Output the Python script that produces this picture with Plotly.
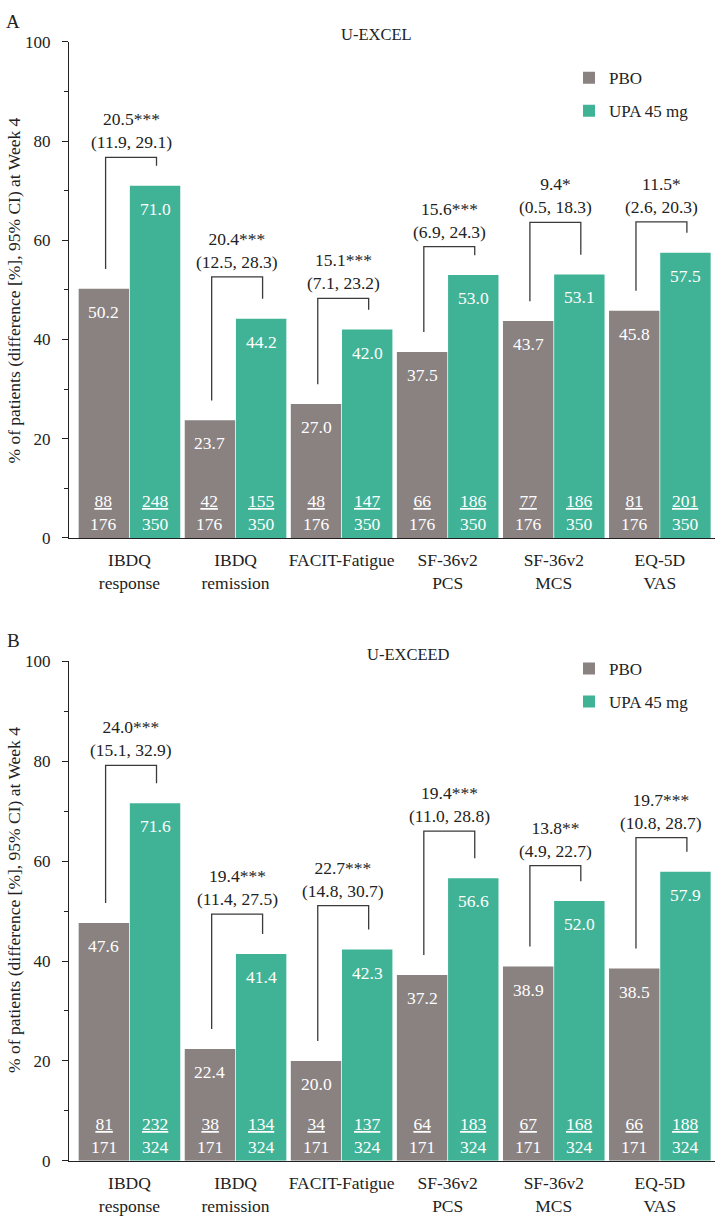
"""Recria o gráfico de barras U-EXCEL / U-EXCEED (PBO vs UPA 45 mg) na semana 4"""

import plotly.graph_objects as go

# Categorias do eixo x
categorias = ["IBDQ<br>response", "IBDQ<br>remission", "FACIT-Fatigue", "SF-36v2<br>PCS", "SF-36v2<br>MCS", "EQ-5D<br>VAS"]

# Painel A - U-EXCEL
pbo_excel = [50.2, 23.7, 27.0, 37.5, 43.7, 45.8]
upa_excel = [71.0, 44.2, 42.0, 53.0, 53.1, 57.5]
pbo_n_excel = [88, 42, 48, 66, 77, 81]
upa_n_excel = [248, 155, 147, 186, 186, 201]
pbo_total_excel = 176
upa_total_excel = 350
dif_excel = ["20.5***", "20.4***", "15.1***", "15.6***", "9.4*", "11.5*"]
ic_excel = ["(11.9, 29.1)", "(12.5, 28.3)", "(7.1, 23.2)", "(6.9, 24.3)", "(0.5, 18.3)", "(2.6, 20.3)"]
chave_excel = [76.7, 52.6, 48.3, 58.7, 63.6, 63.7]

# Painel B - U-EXCEED
pbo_exceed = [47.6, 22.4, 20.0, 37.2, 38.9, 38.5]
upa_exceed = [71.6, 41.4, 42.3, 56.6, 52.0, 57.9]
pbo_n_exceed = [81, 38, 34, 64, 67, 66]
upa_n_exceed = [232, 134, 137, 183, 168, 188]
pbo_total_exceed = 171
upa_total_exceed = 324
dif_exceed = ["24.0***", "19.4***", "22.7***", "19.4***", "13.8**", "19.7***"]
ic_exceed = ["(15.1, 32.9)", "(11.4, 27.5)", "(14.8, 30.7)", "(11.0, 28.8)", "(4.9, 22.7)", "(10.8, 28.7)"]
chave_exceed = [79.2, 49.4, 51.1, 66.0, 59.1, 64.7]

CINZA = "#8A8181"
VERDE = "#40B396"
TEXTO = "#222222"
FONTE = "Liberation Serif"
W, H = 727, 1222

paineis = [
	dict(xa="x", ya="y", leg="legend", titulo="U-EXCEL", titulo_x=376.7, letra="A", rotulo_y=286,
		pbo=pbo_excel, upa=upa_excel, pbo_n=pbo_n_excel, upa_n=upa_n_excel,
		pbo_tot=pbo_total_excel, upa_tot=upa_total_excel,
		dif=dif_excel, ic=ic_excel, chave=chave_excel),
	dict(xa="x2", ya="y2", leg="legend2", titulo="U-EXCEED", titulo_x=408, letra="B", rotulo_y=905,
		pbo=pbo_exceed, upa=upa_exceed, pbo_n=pbo_n_exceed, upa_n=upa_n_exceed,
		pbo_tot=pbo_total_exceed, upa_tot=upa_total_exceed,
		dif=dif_exceed, ic=ic_exceed, chave=chave_exceed),
]

# Posições em pixels (topo / base de cada área de plotagem)
topo_px = [33.3, 662.7]
base_px = [537.3, 1170.0]

fig = go.Figure()
anotacoes = []
idx = list(range(len(categorias)))
desl = 0.241  # deslocamento do centro de cada barra no grupo

for p, topo, base in zip(paineis, topo_px, base_px):
	fig.add_trace(go.Bar(x=idx, y=p["pbo"], name="PBO", marker_color=CINZA, marker_line_width=0,
		xaxis=p["xa"], yaxis=p["ya"], legend=p["leg"], legendgroup="pbo", hoverinfo="skip"))
	fig.add_trace(go.Bar(x=idx, y=p["upa"], name="UPA 45 mg", marker_color=VERDE, marker_line_width=0,
		xaxis=p["xa"], yaxis=p["ya"], legend=p["leg"], legendgroup="upa", hoverinfo="skip"))

	# Chaves ligando PBO e UPA
	bx, by = [], []
	for i in idx:
		xl, xr = i - 0.225, i + 0.255
		bx += [xl, xl, xr, xr, None]
		by += [p["pbo"][i] + 4, p["chave"][i], p["chave"][i], p["upa"][i] + 4, None]
	fig.add_trace(go.Scatter(x=bx, y=by, mode="lines", line=dict(color="#3a3a3a", width=1.3),
		xaxis=p["xa"], yaxis=p["ya"], showlegend=False, hoverinfo="skip"))

	for i in idx:
		# diferença e IC acima da chave
		anotacoes.append(dict(x=i + 0.015, y=p["chave"][i], xref=p["xa"], yref=p["ya"],
			text=f"{p['dif'][i]}<br>{p['ic'][i]}", showarrow=False, yanchor="bottom", yshift=3,
			font=dict(family=FONTE, size=17.5, color=TEXTO)))
		# valores dentro das barras
		for sinal, val in ((-1, p["pbo"][i]), (1, p["upa"][i])):
			anotacoes.append(dict(x=i + sinal * desl, y=val, xref=p["xa"], yref=p["ya"],
				text=f"{val:.1f}", showarrow=False, yanchor="middle", yshift=-23,
				font=dict(family=FONTE, size=17.5, color="white")))
		# n / N na base das barras
		for sinal, n, tot in ((-1, p["pbo_n"][i], p["pbo_tot"]), (1, p["upa_n"][i], p["upa_tot"])):
			anotacoes.append(dict(x=i + sinal * desl, y=0, xref=p["xa"], yref=p["ya"],
				text=f"<u>{n}</u><br>{tot}", showarrow=False, yanchor="bottom", yshift=2,
				font=dict(family=FONTE, size=17.5, color="white")))

	# letra do painel, título e rótulo do eixo y
	anotacoes.append(dict(x=13 / W, y=1 - (topo - 21) / H, xref="paper", yref="paper", text=p["letra"],
		showarrow=False, xanchor="center", yanchor="middle", font=dict(family=FONTE, size=19, color=TEXTO)))
	anotacoes.append(dict(x=p["titulo_x"] / W, y=1 - (topo - 7) / H, xref="paper", yref="paper",
		text=p["titulo"], showarrow=False, xanchor="center", yanchor="middle",
		font=dict(family=FONTE, size=16.5, color=TEXTO)))
	anotacoes.append(dict(x=14 / W, y=1 - p["rotulo_y"] / H, xref="paper", yref="paper", textangle=-90,
		text="% of patients (difference [%], 95% CI) at Week 4", showarrow=False,
		xanchor="center", yanchor="middle", font=dict(family=FONTE, size=17.5, color=TEXTO)))

eixo_x = dict(range=[-0.57, 5.52], tickvals=idx, ticktext=categorias, showline=True, linecolor=TEXTO,
	linewidth=1.2, ticks="", showgrid=False, zeroline=False, tickfont=dict(family=FONTE, size=17.5, color=TEXTO),
	ticklabelstandoff=6, fixedrange=True)
eixo_y = dict(range=[0, 100], tickvals=[0, 20, 40, 60, 80, 100], showline=True, linecolor=TEXTO, linewidth=1.2,
	ticks="outside", ticklen=6, tickcolor=TEXTO, showgrid=False, zeroline=False,
	minor=dict(tickvals=[10, 30, 50, 70, 90], ticks="outside", ticklen=4, tickcolor=TEXTO),
	tickfont=dict(family=FONTE, size=17, color=TEXTO), ticklabelstandoff=8, fixedrange=True)

dom_x = [69 / W, 715 / W]
fig.update_layout(
	width=W, height=H, margin=dict(l=0, r=0, t=0, b=0),
	plot_bgcolor="white", paper_bgcolor="white",
	barmode="group", bargap=0.035, bargroupgap=0.015,
	xaxis=dict(eixo_x, domain=dom_x, anchor="y"),
	yaxis=dict(eixo_y, domain=[1 - base_px[0] / H, 1 - topo_px[0] / H], anchor="x"),
	xaxis2=dict(eixo_x, domain=dom_x, anchor="y2"),
	yaxis2=dict(eixo_y, domain=[1 - base_px[1] / H, 1 - topo_px[1] / H], anchor="x2"),
	legend=dict(x=569 / W, xanchor="left", y=1 - 52 / H, yanchor="top", tracegroupgap=8,
		font=dict(family=FONTE, size=17, color=TEXTO), bgcolor="rgba(0,0,0,0)"),
	legend2=dict(x=569 / W, xanchor="left", y=1 - 652 / H, yanchor="top", tracegroupgap=8,
		font=dict(family=FONTE, size=17, color=TEXTO), bgcolor="rgba(0,0,0,0)"),
	annotations=anotacoes,
)

# Remove a margem do body para a figura ocupar exatamente a janela
fig.write_html("out.html", config={"displayModeBar": False},
	post_script="document.body.style.margin='0px';")
